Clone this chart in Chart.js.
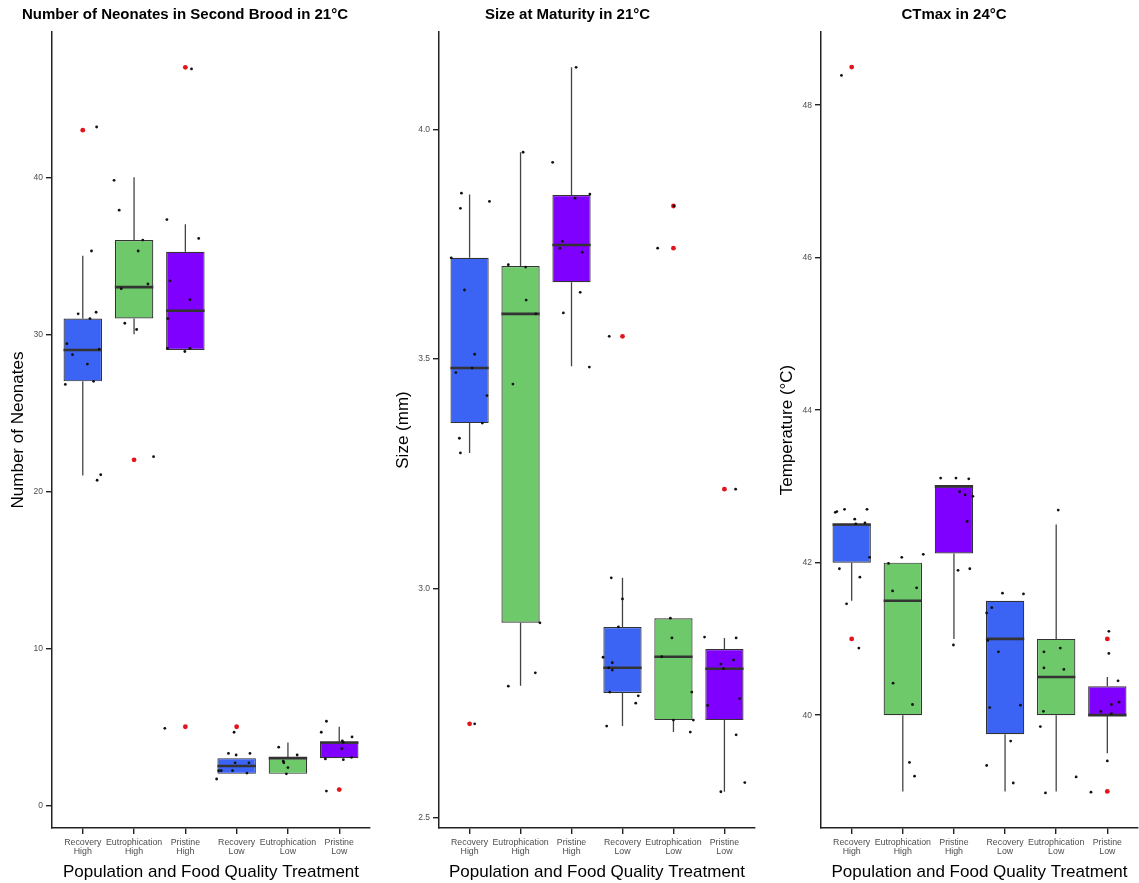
<!DOCTYPE html>
<html>
<head>
<meta charset="utf-8">
<script src="https://cdn.jsdelivr.net/npm/chart.js"></script>
<style>
  body { margin: 0; background: #fff; overflow: hidden; }
  #wrap { position: relative; width: 1139px; height: 883px; overflow: hidden; }
  canvas { position: absolute; top: 0; }
</style>
</head>
<body>
<div id="wrap">
  <canvas id="c1" width="422" height="883" style="left:0px"></canvas>
  <canvas id="c2" width="434" height="883" style="left:380px"></canvas>
  <canvas id="c3" width="420" height="883" style="left:770px"></canvas>
</div>
<script>
// Treatments, same order in every panel
const groups = [
    ['Recovery', 'High'], ['Eutrophication', 'High'], ['Pristine', 'High'],
    ['Recovery', 'Low'], ['Eutrophication', 'Low'], ['Pristine', 'Low']
];

// Panel 1: number of neonates
const neoQ1  = [27, 31, 29, 2, 2, 3];
const neoMed = [29, 33, 31.5, 2.5, 3, 4];
const neoQ3  = [31, 36, 35.25, 3, 3, 4];
const neoLo  = [21, 30, 29, 2, 2, 3];
const neoHi  = [35, 40, 37, 3, 4, 5];
const neoOut = [[43], [22], [47, 5], [5], [], [1]];
const neoPts = [
    [43.2, 35.3, 31.3, 31.4, 31.0, 29.4, 29.05, 28.7, 28.1, 26.8, 27.0, 20.7, 21.05],
    [39.8, 37.9, 36.0, 35.3, 33.2, 32.9, 30.7, 30.3, 22.2],
    [46.9, 37.3, 36.1, 33.4, 32.2, 31.0, 29.1, 28.9, 29.1, 4.9],
    [4.65, 3.3, 3.2, 3.3, 2.7, 2.7, 2.2, 2.2, 2.2, 2.05, 1.67],
    [3.7, 3.2, 2.8, 2.7, 2.4, 2.0],
    [5.35, 4.65, 4.35, 4.1, 4.0, 3.6, 3.05, 2.95, 2.9, 0.9]
];
const neoJit = [
    [0.27, 0.17, -0.09, 0.26, 0.14, -0.31, 0.32, -0.20, 0.09, -0.34, 0.21, 0.28, 0.35],
    [-0.39, -0.29, 0.17, 0.08, 0.27, -0.25, -0.18, 0.05, 0.38],
    [0.12, -0.36, 0.26, -0.30, 0.09, -0.34, -0.35, -0.01, 0.09, -0.40],
    [-0.05, -0.16, -0.01, 0.26, -0.03, 0.24, -0.35, -0.30, -0.08, 0.20, -0.39],
    [-0.18, 0.18, -0.09, -0.08, 0.0, -0.03],
    [-0.25, -0.35, 0.25, 0.06, 0.08, 0.05, 0.24, -0.27, 0.08, -0.25]
];
const neoTicks = [0, 10, 20, 30, 40];

// Panel 2: size at maturity (mm)
const sizeQ1  = [3.36, 2.925, 3.667, 2.772, 2.713, 2.713];
const sizeMed = [3.48, 3.598, 3.748, 2.827, 2.851, 2.825];
const sizeQ3  = [3.72, 3.702, 3.857, 2.916, 2.935, 2.868];
const sizeLo  = [3.295, 2.788, 3.484, 2.70, 2.687, 2.557];
const sizeHi  = [3.858, 3.95, 4.135, 3.023, 2.935, 2.892];
const sizeOut = [[2.705], [], [], [3.549], [3.833, 3.741], [3.216]];
const sizePts = [
    [3.861, 3.828, 3.843, 3.65, 3.51, 3.48, 3.47, 3.42, 3.36, 3.72, 3.327, 3.295, 2.705],
    [3.95, 3.705, 3.70, 3.628, 3.598, 3.445, 2.925, 2.787, 2.816],
    [4.135, 3.928, 3.859, 3.85, 3.756, 3.741, 3.732, 3.645, 3.60, 3.482],
    [3.549, 3.023, 2.977, 2.916, 2.85, 2.838, 2.827, 2.822, 2.774, 2.766, 2.75, 2.70],
    [3.741, 3.833, 2.935, 2.892, 2.851, 2.774, 2.713, 2.713, 2.687],
    [3.216, 2.894, 2.892, 2.835, 2.844, 2.825, 2.76, 2.745, 2.681, 2.577, 2.557]
];
const sizeJit = [
    [-0.16, -0.18, 0.39, -0.10, 0.10, 0.05, -0.27, 0.34, 0.25, -0.36, -0.20, -0.18, 0.10],
    [0.05, -0.24, 0.10, 0.11, 0.30, -0.15, 0.38, -0.24, 0.29],
    [0.09, -0.37, 0.36, 0.07, -0.18, -0.23, 0.21, 0.17, -0.16, 0.35],
    [-0.26, -0.22, 0.0, -0.08, -0.38, -0.20, -0.27, -0.20, -0.25, 0.31, 0.26, -0.31],
    [-0.31, 0.01, -0.06, -0.03, -0.23, 0.36, 0.0, 0.39, 0.33],
    [0.22, -0.39, 0.23, -0.07, 0.18, -0.02, 0.30, -0.33, 0.23, 0.40, -0.07]
];
const sizeTicks = [2.5, 3.0, 3.5, 4.0];

// Panel 3: CTmax (°C)
const ctQ1  = [42.0, 40.0, 42.12, 39.75, 40.0, 40.0];
const ctMed = [42.5, 41.5, 43.0, 41.0, 40.5, 40.0];
const ctQ3  = [42.5, 42.0, 43.0, 41.5, 41.0, 40.38];
const ctLo  = [41.5, 39.0, 41.0, 39.0, 39.0, 39.5];
const ctHi  = [42.5, 42.0, 43.0, 41.5, 42.5, 40.5];
const ctOut = [[48.5, 41.0], [], [], [], [], [41.0, 39.0]];
const ctPts = [
    [48.39, 42.66, 42.67, 42.70, 42.70, 42.57, 42.51, 42.52, 42.07, 41.92, 41.81, 41.46, 40.88],
    [42.07, 42.11, 41.99, 41.63, 41.67, 40.42, 40.14, 39.38, 39.2],
    [43.11, 43.11, 43.10, 42.93, 42.89, 42.87, 42.54, 41.90, 41.92, 40.92],
    [41.6, 41.59, 41.41, 41.34, 40.98, 40.83, 40.10, 40.13, 39.66, 39.34, 39.11],
    [42.69, 40.88, 40.83, 40.62, 40.6, 40.05, 39.85, 39.19, 38.98],
    [41.10, 40.81, 40.45, 40.17, 40.14, 40.05, 40.02, 39.40, 38.99]
];
const ctJit = [
    [-0.20, -0.32, -0.29, -0.14, 0.30, 0.06, 0.08, 0.26, 0.35, -0.24, 0.16, -0.10, 0.14],
    [-0.02, 0.40, -0.28, -0.20, 0.27, -0.19, 0.19, 0.13, 0.23],
    [-0.26, 0.04, 0.29, 0.11, 0.22, 0.37, 0.26, 0.08, 0.31, -0.01],
    [-0.05, 0.36, -0.26, -0.36, -0.34, -0.13, -0.30, 0.30, 0.11, -0.36, 0.16],
    [0.04, 0.08, -0.24, -0.24, 0.15, -0.25, -0.31, 0.39, -0.21],
    [0.03, 0.03, 0.21, 0.23, 0.08, -0.13, 0.08, 0.0, -0.32]
];
const ctTicks = [40, 42, 44, 46, 48];

// styling
const FONT = '"Liberation Sans", Arial, Helvetica, sans-serif';
const boxColors = ['#3c64f4', '#6ec96a', '#7f00ff', '#3c64f4', '#6ec96a', '#7f00ff'];
const HALF = 0.375; // half box width in category units

function makePanel(id, p) {
    const boxes = groups.map((g, i) => ({ x: i, y: [p.q1[i], p.q3[i]] }));
    const whiskers = groups.flatMap((g, i) => [
        { x: i, y: p.q3[i] }, { x: i, y: p.hi[i] }, { x: i, y: null },
        { x: i, y: p.q1[i] }, { x: i, y: p.lo[i] }, { x: i, y: null }
    ]);
    const medians = groups.flatMap((g, i) => [
        { x: i - HALF, y: p.med[i] }, { x: i + HALF, y: p.med[i] }, { x: i, y: null }
    ]);
    const outliers = groups.flatMap((g, i) => p.out[i].map(v => ({ x: i, y: v })));
    const points = groups.flatMap((g, i) => p.pts[i].map((v, k) => ({ x: i + p.jit[i][k], y: v })));

    const axisBorder = { display: true, color: '#222', width: 1.5 };
    const axisGrid = () => ({ display: true, offset: false, drawOnChartArea: false, drawTicks: true,
                              tickLength: 6, color: '#222', lineWidth: 1.4, tickColor: '#222', tickWidth: 1.4 });

    return new Chart(document.getElementById(id), {
        type: 'scatter',
        data: {
            datasets: [
                { type: 'line', data: whiskers, borderColor: '#444', borderWidth: 1.3, pointRadius: 0, spanGaps: false, order: 5 },
                { type: 'bar', data: boxes, backgroundColor: boxColors, borderColor: '#333', borderWidth: 1.2,
                  borderSkipped: false, categoryPercentage: 1, barPercentage: 0.75, order: 4 },
                { type: 'line', data: medians, borderColor: '#333', borderWidth: 2.6, pointRadius: 0, spanGaps: false, order: 2 },
                { type: 'scatter', data: outliers, pointRadius: 2.4, backgroundColor: '#e3141c', borderWidth: 0, order: 1 },
                { type: 'scatter', data: points, pointRadius: 1.4, backgroundColor: '#111', borderWidth: 0, order: 0 }
            ]
        },
        options: {
            responsive: false,
            animation: false,
            devicePixelRatio: 1,
            layout: { padding: { left: 0, right: p.padRight, top: 0, bottom: 0 } },
            plugins: {
                legend: { display: false },
                tooltip: { enabled: false },
                title: { display: true, text: p.title, color: '#000',
                         font: { family: FONT, size: 15, weight: 'bold' }, padding: { top: 6, bottom: 8 } }
            },
            scales: {
                x: {
                    type: 'linear', min: -0.6, max: 5.6, offset: false,
                    afterBuildTicks: s => { s.ticks = groups.map((g, i) => ({ value: i })); },
                    afterFit: s => { s.height = 55; },
                    ticks: { callback: v => groups[v], autoSkip: false, maxRotation: 0, padding: 4,
                             color: '#4d4d4d', font: { family: FONT, size: 8.8, lineHeight: 1.05 } },
                    grid: axisGrid(), border: axisBorder,
                    title: { display: true, text: 'Population and Food Quality Treatment', color: '#000',
                             font: { family: FONT, size: 17 }, padding: { top: 0, bottom: 0 } }
                },
                y: {
                    type: 'linear', min: p.yMin, max: p.yMax, offset: false,
                    afterBuildTicks: s => { s.ticks = p.ticks.map(v => ({ value: v })); },
                    afterFit: s => { s.width = p.yWidth; },
                    ticks: { callback: v => p.fmt(v), padding: 3, color: '#4d4d4d', font: { family: FONT, size: 8.5 } },
                    grid: axisGrid(), border: axisBorder,
                    title: { display: true, text: p.yTitle, color: '#000',
                             font: { family: FONT, size: 17 }, padding: { top: p.yTitlePad, bottom: 0 } }
                }
            }
        }
    });
}

makePanel('c1', {
    title: 'Number of Neonates in Second Brood in 21°C', yTitle: 'Number of Neonates',
    q1: neoQ1, med: neoMed, q3: neoQ3, lo: neoLo, hi: neoHi, out: neoOut, pts: neoPts, jit: neoJit,
    ticks: neoTicks, fmt: v => String(v), yMin: -1.45, yMax: 49.25,
    yWidth: 52, padRight: 52, yTitlePad: 8
});

makePanel('c2', {
    title: 'Size at Maturity in 21°C', yTitle: 'Size (mm)',
    q1: sizeQ1, med: sizeMed, q3: sizeQ3, lo: sizeLo, hi: sizeHi, out: sizeOut, pts: sizePts, jit: sizeJit,
    ticks: sizeTicks, fmt: v => v.toFixed(1), yMin: 2.478, yMax: 4.212,
    yWidth: 59, padRight: 59, yTitlePad: 13
});

makePanel('c3', {
    title: 'CTmax in 24°C', yTitle: 'Temperature (°C)',
    q1: ctQ1, med: ctMed, q3: ctQ3, lo: ctLo, hi: ctHi, out: ctOut, pts: ctPts, jit: ctJit,
    ticks: ctTicks, fmt: v => String(v), yMin: 38.52, yMax: 48.96,
    yWidth: 51, padRight: 52, yTitlePad: 7
});
</script>
</body>
</html>
